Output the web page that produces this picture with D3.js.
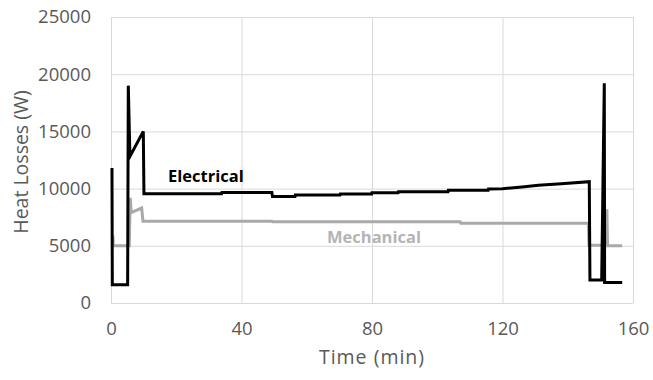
<!DOCTYPE html>
<html>
<head>
<meta charset="utf-8">
<script src="https://cdn.jsdelivr.net/npm/d3@7"></script>
<style>
  body { margin: 0; background: #fff; }
  text { font-family: "Open Sans", sans-serif; }
</style>
</head>
<body>
<div class="chart"></div>
<script>
// time (min) and heat losses (W)
const elecTime = [0.3, 0.4, 5.1, 5.3, 5.8, 9.9, 10.1, 33.9, 34.0, 49.3, 49.5, 56.4, 56.5, 70.2, 70.3, 79.9, 80.0, 88.0, 88.1, 103.3, 103.4, 115.6, 115.7, 120.0, 126.0, 131.0, 138.0, 146.6, 146.8, 150.4, 151.2, 151.3, 156.7];
const elecLoss = [11800, 1600, 1600, 19000, 12800, 15000, 9550, 9550, 9650, 9650, 9300, 9300, 9440, 9440, 9530, 9530, 9640, 9640, 9730, 9730, 9850, 9850, 9970, 9990, 10150, 10300, 10420, 10600, 2000, 2000, 19200, 1800, 1800];

const mechTime = [0.6, 0.7, 5.6, 5.9, 6.2, 9.4, 9.8, 49.3, 49.5, 107.0, 107.2, 146.3, 146.5, 150.7, 152.0, 152.2, 156.7];
const mechLoss = [5900, 5000, 5000, 9200, 7900, 8300, 7150, 7150, 7100, 7100, 6970, 6970, 5050, 5050, 8200, 5000, 5000];

const xTicks = [0, 40, 80, 120, 160];
const yTicks = [0, 5000, 10000, 15000, 20000, 25000];

const width = 653;
const height = 380;
const margin = { top: 17, right: 20, bottom: 77, left: 111 };

const svg = d3.select('.chart')
  .append('svg')
  .attr('width', width)
  .attr('height', height);

const x = d3.scaleLinear().domain([0, 160]).range([margin.left, width - margin.right]);
const y = d3.scaleLinear().domain([0, 25000]).range([height - margin.bottom, margin.top]);

// grid
svg.append('g')
  .selectAll('line.h')
  .data(yTicks)
  .join('line')
  .attr('x1', x(0)).attr('x2', x(160))
  .attr('y1', d => y(d) + 0.5).attr('y2', d => y(d) + 0.5)
  .attr('stroke', '#d9d9d9');

svg.append('g')
  .selectAll('line.v')
  .data(xTicks)
  .join('line')
  .attr('x1', d => x(d) + 0.5).attr('x2', d => x(d) + 0.5)
  .attr('y1', y(0)).attr('y2', y(25000))
  .attr('stroke', '#d9d9d9');

// axes (labels only)
const yAxis = d3.axisLeft(y).tickValues(yTicks).tickFormat(d3.format('d')).tickSize(0).tickPadding(20);
svg.append('g')
  .attr('transform', `translate(${x(0)},0)`)
  .call(yAxis)
  .call(g => g.select('.domain').remove())
  .selectAll('text')
  .style('font-size', '18.5px')
  .attr('fill', '#595959');

const xAxis = d3.axisBottom(x).tickValues(xTicks).tickSize(0).tickPadding(19);
svg.append('g')
  .attr('transform', `translate(0,${y(0)})`)
  .call(xAxis)
  .call(g => g.select('.domain').remove())
  .selectAll('text')
  .style('font-size', '18.5px')
  .attr('fill', '#595959');

// lines
const line = d3.line().x(d => x(d[0])).y(d => y(d[1]));

svg.append('path')
  .datum(d3.zip(mechTime, mechLoss))
  .attr('d', line)
  .attr('fill', 'none')
  .attr('stroke', '#a9a9a9')
  .attr('stroke-width', 3)
  .attr('stroke-linejoin', 'miter');

svg.append('path')
  .datum(d3.zip(elecTime, elecLoss))
  .attr('d', line)
  .attr('fill', 'none')
  .attr('stroke', '#000')
  .attr('stroke-width', 3)
  .attr('stroke-linejoin', 'miter');

// series labels
svg.append('text')
  .attr('x', 168).attr('y', 182)
  .style('font-size', '16.5px')
  .style('font-weight', 'bold')
  .attr('fill', '#000')
  .text('Electrical');

svg.append('text')
  .attr('x', 327).attr('y', 243)
  .style('font-size', '16.5px')
  .style('font-weight', 'bold')
  .attr('fill', '#b4b4b4')
  .text('Mechanical');

// axis titles
svg.append('text')
  .attr('transform', `translate(28, ${(y(0) + y(25000)) / 2 + 2}) rotate(-90)`)
  .attr('text-anchor', 'middle')
  .style('font-size', '19.5px')
  .attr('fill', '#595959')
  .text('Heat Losses (W)');

svg.append('text')
  .attr('x', (x(0) + x(160)) / 2)
  .attr('y', 364)
  .attr('text-anchor', 'middle')
  .style('font-size', '19.5px')
  .style('letter-spacing', '1px')
  .attr('fill', '#595959')
  .text('Time (min)');
</script>
</body>
</html>
